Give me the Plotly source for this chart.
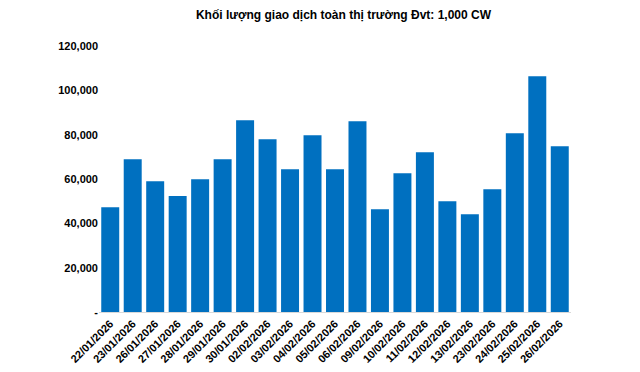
import plotly.graph_objects as go

dates = ["22/01/2026", "23/01/2026", "26/01/2026", "27/01/2026", "28/01/2026", "29/01/2026",
         "30/01/2026", "02/02/2026", "03/02/2026", "04/02/2026", "05/02/2026", "06/02/2026",
         "09/02/2026", "10/02/2026", "11/02/2026", "12/02/2026", "13/02/2026", "23/02/2026",
         "24/02/2026", "25/02/2026", "26/02/2026"]
volumes = [47300, 68900, 59000, 52300, 59900, 68900, 86500, 77900, 64400, 79700, 64400,
           86000, 46400, 62600, 72100, 50000, 44100, 55400, 80600, 106300, 74800]
y_ticks = [0, 20000, 40000, 60000, 80000, 100000, 120000]
y_tick_text = ["-", "20,000", "40,000", "60,000", "80,000", "100,000", "120,000"]

# page body has an 8px default margin, so the figure is sized to fill the rest
W, H = 632, 364

fig = go.Figure(go.Bar(x=dates, y=volumes, marker_color="#0070C0", marker_line_width=0))

fig.update_layout(
    width=W, height=H,
    margin=dict(l=91, r=69, t=38, b=60, autoexpand=False),
    paper_bgcolor="white", plot_bgcolor="white",
    bargap=0.2,
    showlegend=False,
    font=dict(family="Liberation Sans, Arial, sans-serif", color="#000000"),
    title=dict(text="<b>Khối lượng giao dịch toàn thị trường Đvt: 1,000 CW</b>",
               x=0.518, xanchor="center", xref="paper", y=1 - 7 / H, yanchor="middle", yref="container",
               font=dict(size=12, family="Liberation Sans, Arial, sans-serif", color="#000000")),
)
fig.update_xaxes(type="category", tickangle=-45, showline=True, linecolor="#D9D9D9", linewidth=1,
                 showgrid=False, ticks="", automargin=False,
                 tickfont=dict(size=11, family="Liberation Sans, Arial, sans-serif"),
                 tickprefix="<b>", ticksuffix="</b>")
fig.update_yaxes(range=[0, 120000], tickvals=y_ticks, ticktext=["<b>%s</b>" % t for t in y_tick_text],
                 showgrid=False, zeroline=False, showline=False, ticks="", ticklen=0, automargin=False,
                 tickfont=dict(size=11, family="Liberation Sans, Arial, sans-serif"))

fig.write_html("out.html")
